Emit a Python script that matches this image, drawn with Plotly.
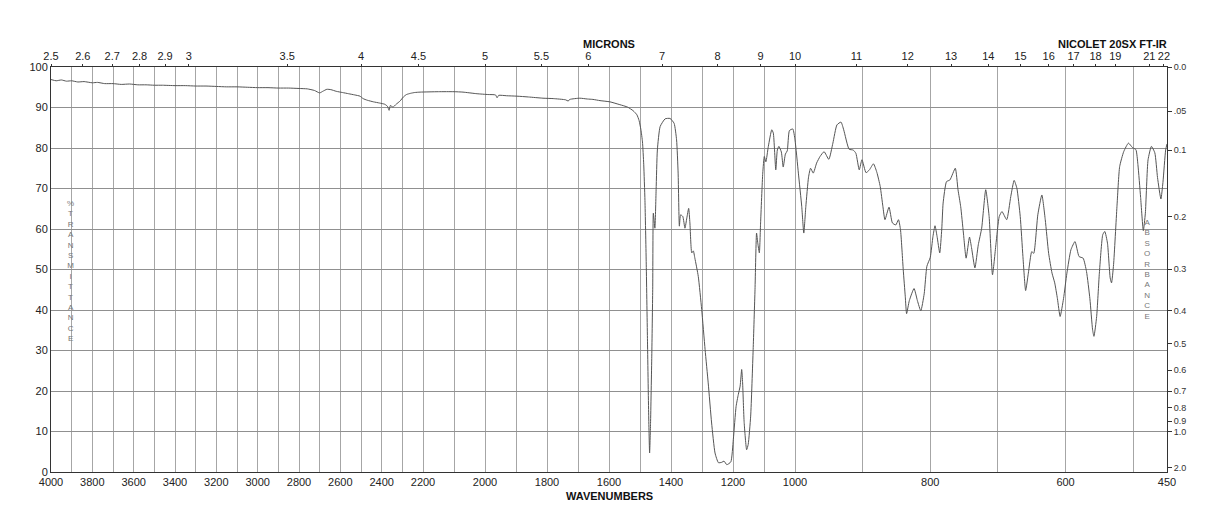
import numpy as np
import plotly.graph_objects as go

# ---------------- data ----------------
wavenumber = [
    4000, 3975, 3950, 3925, 3900, 3870, 3840, 3800, 3775, 3740, 3700, 3660, 3620, 3580, 3540,
    3500, 3460, 3400, 3350, 3300, 3250, 3200, 3150, 3100, 3050, 3000, 2950, 2900, 2850, 2800,
    2760, 2725, 2700, 2685, 2665, 2645, 2620, 2590, 2560, 2530, 2505, 2490, 2470, 2440, 2410,
    2385, 2372, 2364, 2358, 2352, 2345, 2330, 2311, 2295, 2280, 2260, 2240, 2214, 2150, 2100,
    2071, 2026, 1990, 1966, 1961, 1956, 1930, 1897, 1860, 1813, 1780, 1740, 1732, 1726, 1694,
    1670, 1652, 1629, 1597, 1565, 1540, 1522, 1510, 1503, 1497, 1492, 1488, 1484, 1480, 1476,
    1472, 1469, 1466, 1462, 1459, 1457, 1452, 1448, 1444, 1435, 1419, 1403, 1390, 1382, 1377,
    1373, 1369, 1362, 1355, 1349, 1343, 1339, 1333, 1328, 1323, 1312, 1301, 1290, 1280, 1269,
    1258, 1247, 1236, 1229, 1220, 1207, 1199, 1190, 1183, 1177, 1172, 1169, 1164, 1156, 1151,
    1143, 1135, 1129, 1124, 1120, 1115, 1111, 1104, 1099, 1094, 1086, 1075, 1070, 1062, 1057,
    1052, 1044, 1038, 1031, 1025, 1018, 1007, 1000, 995, 990, 987, 984, 980, 977, 973,
    968, 963, 957, 950, 944, 938, 932, 928, 920, 914, 910, 905, 901, 895, 890,
    884, 879, 874, 870, 867, 861, 856, 851, 847, 844, 840, 837, 835, 831, 824,
    819, 814, 809, 805, 800, 796, 793, 790, 786, 783, 781, 776, 771, 763, 759,
    755, 751, 747, 742, 739, 734, 729, 724, 718, 713, 708, 703, 698, 694, 687,
    681, 676, 672, 667, 663, 659, 655, 650, 647, 641, 635, 630, 625, 620, 616,
    612, 608, 603, 598, 592, 586, 580, 574, 569, 564, 560, 558, 554, 550, 545,
    542, 538, 534, 532, 529, 524, 520, 514, 507, 501, 496, 493, 489, 485, 482,
    478, 473, 468, 464, 459, 456, 452, 450,
]
transmittance = [
    96.9, 96.6, 96.8, 96.5, 96.6, 96.3, 96.4, 96.1, 96.2, 95.9, 95.9, 95.7, 95.8, 95.6, 95.6,
    95.5, 95.5, 95.4, 95.4, 95.3, 95.3, 95.2, 95.1, 95.1, 95.0, 94.9, 94.9, 94.8, 94.8, 94.7,
    94.6, 94.2, 93.6, 94.0, 94.5, 94.4, 94.0, 93.7, 93.4, 93.1, 92.8, 92.2, 91.8, 91.4, 91.1,
    90.8, 90.3, 89.3, 90.5, 90.3, 90.1, 90.8, 91.6, 92.6, 93.2, 93.5, 93.7, 93.8, 93.9, 93.9,
    93.8, 93.4, 93.2, 93.1, 92.4, 93.0, 92.9, 92.8, 92.6, 92.3, 92.2, 91.9, 91.6, 92.0, 92.3,
    92.1, 92.0, 91.7, 91.4, 90.7, 90.1, 89.2, 88.2, 86.8, 84.5, 81.5, 76.0, 67.0, 52.0, 33.0,
    14.0, 4.7, 12.0, 28.6, 45.0, 63.9, 60.2, 69.7, 79.5, 85.3, 87.2, 87.3, 86.1, 82.0, 73.8,
    60.7, 63.5, 63.1, 60.2, 62.7, 65.1, 61.5, 54.1, 54.6, 52.8, 48.3, 40.1, 30.2, 22.0, 12.1,
    4.7, 2.3, 2.4, 2.7, 1.8, 2.5, 8.0, 16.2, 19.1, 21.2, 25.3, 22.0, 12.2, 5.5, 6.8,
    13.8, 30.2, 45.0, 59.0, 56.5, 54.1, 61.5, 73.8, 77.9, 76.6, 80.4, 84.5, 83.7, 74.6, 79.5,
    80.4, 79.0, 75.3, 78.5, 79.3, 84.3, 84.7, 82.0, 73.8, 65.5, 59.0, 65.5, 72.8, 75.0, 73.8,
    76.3, 77.9, 79.1, 77.2, 81.2, 85.7, 86.4, 84.5, 79.7, 79.5, 78.7, 74.6, 77.1, 73.9, 74.6,
    76.1, 74.0, 70.5, 65.5, 62.3, 65.4, 61.5, 61.0, 62.3, 59.8, 50.0, 43.4, 39.1, 42.3, 45.3,
    42.3, 39.8, 44.0, 50.8, 53.0, 58.2, 60.8, 58.2, 54.1, 60.0, 66.4, 71.7, 72.1, 75.0, 69.7,
    65.5, 59.0, 52.8, 58.0, 55.4, 50.4, 56.1, 60.2, 69.7, 63.1, 48.7, 56.1, 63.1, 64.3, 62.3,
    68.0, 72.0, 70.1, 63.1, 53.2, 44.8, 49.1, 54.4, 54.0, 63.5, 68.4, 62.3, 54.0, 49.1, 46.7,
    42.8, 38.4, 42.8, 49.1, 54.9, 56.9, 53.2, 52.8, 49.5, 42.8, 35.1, 33.5, 38.4, 49.1, 58.6,
    59.4, 56.5, 47.9, 46.7, 51.2, 65.5, 75.4, 79.1, 81.2, 80.1, 79.6, 75.9, 67.8, 59.6, 63.9,
    77.1, 80.4, 78.8, 72.7, 67.4, 71.5, 79.5, 81.0,
]

wavenumber_labels = [4000, 3800, 3600, 3400, 3200, 3000, 2800, 2600, 2400, 2200,
                     2000, 1800, 1600, 1400, 1200, 1000, 800, 600, 450]
wavenumber_grid = list(range(4000, 499, -100)) + [450]
micron_labels = [2.5, 2.6, 2.7, 2.8, 2.9, 3, 3.5, 4, 4.5, 5, 5.5, 6, 7, 8, 9, 10,
                 11, 12, 13, 14, 15, 16, 17, 18, 19, 21, 22]
transmittance_ticks = list(range(0, 101, 10))
absorbance_values = [0.0, 0.05, 0.1, 0.2, 0.3, 0.4, 0.5, 0.6, 0.7, 0.8, 0.9, 1.0, 2.0]
absorbance_labels = ["0.0", ".05", "0.1", "0.2", "0.3", "0.4", "0.5", "0.6", "0.7",
                     "0.8", "0.9", "1.0", "2.0"]

# ---------------- piecewise wavenumber scale ----------------
SEG_WN = [4000, 2200, 1000, 450]
SEG_POS = [0, 1, 2, 3]


def pos(wn):
    wn = np.asarray(wn, dtype=float)
    return np.interp(-wn, [-w for w in SEG_WN], SEG_POS)


FONT = "Liberation Sans, Arial, Helvetica, sans-serif"
AX = "#333333"
GRID = "#a6a6a6"

fig = go.Figure()

fig.add_trace(go.Scatter(
    x=pos(wavenumber), y=transmittance, mode="lines",
    line=dict(color="#555555", width=1, shape="spline", smoothing=0.5),
    hoverinfo="skip", showlegend=False))

# invisible helper trace to carry the top / right axes
fig.add_trace(go.Scatter(
    x=[0, 3], y=[0, 100], xaxis="x2", yaxis="y2", mode="markers",
    marker=dict(opacity=0), hoverinfo="skip", showlegend=False))

grid_text = [str(w) if w in wavenumber_labels else "" for w in wavenumber_grid]

fig.update_layout(
    width=1218, height=528,
    margin=dict(l=51, r=51, t=67, b=56),
    paper_bgcolor="white", plot_bgcolor="white",
    font=dict(family=FONT, size=11, color="#222222"),
    xaxis=dict(
        range=[0, 3], tickmode="array",
        tickvals=pos(wavenumber_grid).tolist(), ticktext=grid_text,
        showgrid=True, gridcolor=GRID, gridwidth=1,
        ticks="", showline=True, linecolor=AX, linewidth=1,
        zeroline=False, tickfont=dict(size=11, color="#222222"),
    ),
    xaxis2=dict(
        range=[0, 3], overlaying="x", side="top", tickmode="array",
        tickvals=pos([10000.0 / m for m in micron_labels]).tolist(),
        ticktext=[f"{m:g}" for m in micron_labels],
        showgrid=False, ticks="outside", ticklen=2, tickcolor=AX,
        showline=True, linecolor=AX, linewidth=1, zeroline=False,
        tickfont=dict(size=11, color="#222222"),
    ),
    yaxis=dict(
        range=[0, 100], tickmode="array", tickvals=transmittance_ticks,
        showgrid=True, gridcolor="#909090", gridwidth=1, ticks="",
        showline=True, linecolor=AX, linewidth=1, zeroline=False,
        tickfont=dict(size=11, color="#222222"),
    ),
    yaxis2=dict(
        range=[0, 100], overlaying="y", side="right", tickmode="array",
        tickvals=[100 * 10 ** (-a) for a in absorbance_values],
        ticktext=absorbance_labels,
        showgrid=False, ticks="outside", ticklen=4, tickcolor=AX,
        showline=True, linecolor=AX, linewidth=1, zeroline=False,
        tickfont=dict(size=9, color="#333333"),
    ),
)

# white boxes behind the vertical side captions (above grid, below data)
fig.add_shape(type="rect", xref="paper", yref="paper", layer="between",
              x0=0.0105, x1=0.0255, y0=0.305, y1=0.685,
              fillcolor="white", line=dict(width=0))
fig.add_shape(type="rect", xref="paper", yref="paper", layer="between",
              x0=0.9755, x1=0.9895, y0=0.375, y1=0.625,
              fillcolor="white", line=dict(width=0))

fig.add_annotation(text="<br>".join(list("%TRANSMITTANCE")),
                   xref="paper", yref="paper", x=0.0177, y=0.497,
                   showarrow=False, font=dict(size=8, color="#777777"),
                   xanchor="center", yanchor="middle")
fig.add_annotation(text="<br>".join(list("ABSORBANCE")),
                   xref="paper", yref="paper", x=0.9823, y=0.499,
                   showarrow=False, font=dict(size=8, color="#777777"),
                   xanchor="center", yanchor="middle")

fig.add_annotation(text="<b>MICRONS</b>", xref="paper", yref="paper",
                   x=0.5, y=1.057, showarrow=False,
                   font=dict(size=11, color="#111111"),
                   xanchor="center", yanchor="middle")
fig.add_annotation(text="<b>NICOLET 20SX FT-IR</b>", xref="paper", yref="paper",
                   x=1.002, y=1.057, showarrow=False,
                   font=dict(size=11, color="#111111"),
                   xanchor="right", yanchor="middle")
fig.add_annotation(text="<b>WAVENUMBERS</b>", xref="paper", yref="paper",
                   x=0.5, y=-0.059, showarrow=False,
                   font=dict(size=11, color="#111111"),
                   xanchor="center", yanchor="middle")

fig.write_html("out.html")
